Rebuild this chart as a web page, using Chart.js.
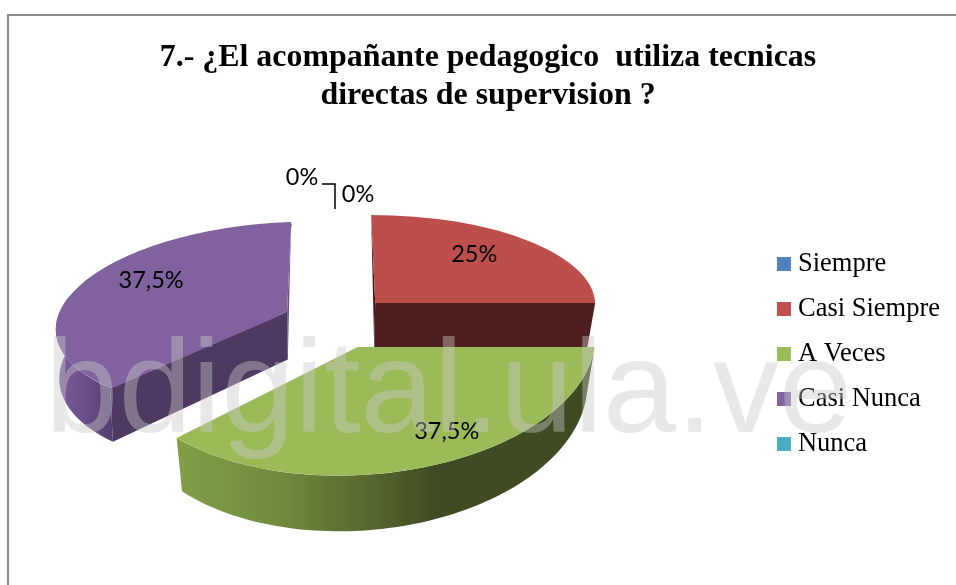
<!DOCTYPE html>
<html>
<head>
<meta charset="utf-8">
<style>
html,body{margin:0;padding:0;background:#fff;overflow:hidden;width:956px;height:585px}
#frame{position:absolute;left:7px;top:14px;width:949px;height:571px;border-left:2px solid #8c8c8c;border-top:2px solid #8c8c8c;box-sizing:border-box}
#wrap{position:absolute;left:0;top:0;width:956px;height:585px;overflow:hidden}
canvas{position:absolute;left:0;top:0}
</style>
<script src="https://cdn.jsdelivr.net/npm/chart.js@4"></script>
</head>
<body>
<div id="frame"></div>
<div id="wrap"><canvas id="c" width="976" height="669"></canvas></div>
<script>
const titleLines = ['7.- ¿El acompañante pedagogico  utiliza tecnicas', 'directas de supervision ?'];
const categories = ['Siempre', 'Casi Siempre', 'A Veces', 'Casi Nunca', 'Nunca'];
const percentages = [0, 25, 37.5, 37.5, 0];
const valueLabels = ['0%', '25%', '37,5%', '37,5%', '0%'];
const colors = ['#4f81bd', '#c0504d', '#9bbb59', '#8064a2', '#4bacc6'];
const topColors = ['#4f81bd', '#bc4f4c', '#9bbb59', '#7f629e', '#4bacc6'];
const watermark = 'bdigital.ula.ve';

// Camera used to show the flat pie as an exploded 3-D pie.
const VIEW = {cx: 337, cy: 322, explode: 54, squash: 0.5, vanishX: 345, depthBase: 40, depthFrom: 215};
// Per-slice foreshortening: where unit x and unit y of the pie land, with label place in those units.
const SLICE_VIEW = {
  1: {A: [220, 0], B: [4, 88], nudge: [0, 0], label: [0.46, -0.55], shrink: 0.032, depthRate: 0.06, wallShare: 0},
  2: {A: [237, 0], B: [-19, 128.7], nudge: [0, 0], label: [0.428, 0.653], shrink: 0.032, depthRate: 0.06, wallShare: 1},
  3: {A: [219.8, -6.6], B: [-15, 94.5], nudge: [-11, 4.8], label: [-0.598, -0.427], shrink: 0.012, depthRate: 0.08, wallShare: 0.45}
};
const DRAW_ORDER = [1, 3, 2];

function geometry(el, i) {
  const v = SLICE_VIEW[i];
  const mid = (el.startAngle + el.endAngle) / 2 + Math.PI / 2;
  const tip = [VIEW.cx + VIEW.explode * Math.sin(mid), VIEW.cy - VIEW.explode * VIEW.squash * Math.cos(mid)];
  const O = [tip[0] + v.nudge[0], tip[1] + v.nudge[1]];
  const at = a => {
    const t = a + Math.PI / 2;
    return [O[0] + Math.sin(t) * v.A[0] - Math.cos(t) * v.B[0], O[1] + Math.sin(t) * v.A[1] - Math.cos(t) * v.B[1]];
  };
  const drop = p => [p[0] + (VIEW.vanishX - p[0]) * v.shrink, p[1] + VIEW.depthBase + (p[1] - VIEW.depthFrom) * v.depthRate];
  return {v, tip, O, at, drop};
}
function poly(ctx, pts, fill) {
  ctx.beginPath();
  pts.forEach((p, k) => k ? ctx.lineTo(p[0], p[1]) : ctx.moveTo(p[0], p[1]));
  ctx.closePath();
  ctx.fillStyle = fill;
  ctx.fill();
}
function hGrad(ctx, x0, x1, stops) {
  const g = ctx.createLinearGradient(x0, 0, x1, 0);
  stops.forEach(s => g.addColorStop(s[0], s[1]));
  return g;
}
const WALLS = {
  1: {outer: () => '#4f1e1e', back: '#3d1716', front: '#4f1e1e', frontIsEnd: true},
  2: {outer: ctx => hGrad(ctx, 177, 596, [[0, '#809f46'], [0.25, '#6f8a3f'], [0.45, '#58692f'], [0.62, '#3f4b22'], [1, '#3f4b22']])},
  3: {outer: ctx => hGrad(ctx, 58, 110, [[0, '#7a5d99'], [0.5, '#6a4f88'], [1, '#574073']]), back: '#6a5388', front: '#4e3961', frontIsEnd: false}
};

const pie3d = {
  id: 'pie3d',
  beforeDatasetDraw(chart) {
    const ctx = chart.ctx;
    const els = chart.getDatasetMeta(0).data;
    DRAW_ORDER.forEach(i => {
      const el = els[i];
      const g = geometry(el, i);
      const w = WALLS[i];
      const n = 80, top = [];
      for (let k = 0; k <= n; k++) top.push(g.at(el.startAngle + (el.endAngle - el.startAngle) * k / n));
      const start = top[0], end = top[n];
      const wallPts = top.slice(0, Math.round(n * g.v.wallShare) + 1);
      if (wallPts.length > 1) poly(ctx, wallPts.concat(wallPts.slice().reverse().map(g.drop)), w.outer(ctx));
      if (w.back) {
        const backEnd = w.frontIsEnd ? start : end;
        poly(ctx, [backEnd, g.tip, g.drop(g.tip)], w.back);
      }
      if (w.front) {
        const frontEnd = w.frontIsEnd ? end : start;
        poly(ctx, [g.tip, frontEnd, g.drop(frontEnd), g.drop(g.tip)], w.front);
      }
      const r = el.outerRadius, A = g.v.A, B = g.v.B;
      ctx.save();
      ctx.transform(A[0] / r, A[1] / r, B[0] / r, B[1] / r,
        g.O[0] - (A[0] * el.x + B[0] * el.y) / r,
        g.O[1] - (A[1] * el.x + B[1] * el.y) / r);
      el.draw(ctx);
      ctx.restore();
      if (g.v.nudge[0] || g.v.nudge[1]) {
        poly(ctx, [start, g.O, end, g.tip], topColors[i]);
        ctx.save();
        ctx.strokeStyle = topColors[i];
        ctx.lineWidth = 1.5;
        ctx.beginPath();
        ctx.moveTo(end[0], end[1] + 2);
        ctx.lineTo(g.O[0], g.O[1]);
        ctx.lineTo(start[0] + 3, start[1] - 1);
        ctx.stroke();
        ctx.restore();
      }
    });
    return false;
  },
  afterDraw(chart) {
    const ctx = chart.ctx;
    const els = chart.getDatasetMeta(0).data;
    ctx.save();
    ctx.fillStyle = '#000';
    ctx.font = '23.5px Lato, "Open Sans", sans-serif';
    ctx.textAlign = 'center';
    ctx.textBaseline = 'middle';
    DRAW_ORDER.forEach(i => {
      const g = geometry(els[i], i), l = g.v.label;
      ctx.fillText(valueLabels[i], g.O[0] + l[0] * g.v.A[0] + l[1] * g.v.B[0], g.O[1] + l[0] * g.v.A[1] + l[1] * g.v.B[1]);
    });
    ctx.fillText(valueLabels[4], VIEW.cx - 35, VIEW.cy - 145);
    ctx.fillText(valueLabels[0], VIEW.cx + 21, VIEW.cy - 128);
    ctx.strokeStyle = '#000';
    ctx.lineWidth = 1.5;
    ctx.beginPath();
    ctx.moveTo(VIEW.cx - 15, VIEW.cy - 138);
    ctx.lineTo(VIEW.cx - 2, VIEW.cy - 138);
    ctx.lineTo(VIEW.cx - 2, VIEW.cy - 113);
    ctx.stroke();
    ctx.fillStyle = 'rgba(200,200,200,0.42)';
    ctx.font = '132px "Liberation Sans", sans-serif';
    ctx.textAlign = 'left';
    ctx.textBaseline = 'alphabetic';
    ctx.fillText(watermark, 45, 432);
    ctx.restore();
  }
};

new Chart(document.getElementById('c'), {
  type: 'pie',
  data: {
    labels: categories,
    datasets: [{data: percentages, backgroundColor: topColors, borderWidth: 0}]
  },
  plugins: [pie3d],
  options: {
    responsive: false,
    animation: false,
    layout: {padding: {top: 39, right: 26, bottom: 0, left: 26}},
    plugins: {
      tooltip: {enabled: false},
      title: {
        display: true,
        text: titleLines,
        color: '#000',
        font: {family: '"Liberation Serif", serif', size: 31.9, weight: 'bold', lineHeight: 1.19},
        padding: {top: 0, bottom: 10}
      },
      legend: {
        position: 'right',
        labels: {
          color: '#000',
          font: {family: '"Liberation Serif", serif', size: 26.5},
          boxWidth: 1.5,
          boxHeight: 1.5,
          padding: 18.5,
          generateLabels(chart) {
            return categories.map((text, i) => ({
              text, index: i, fillStyle: colors[i], strokeStyle: colors[i], lineWidth: 12.5, hidden: false, fontColor: '#000'
            }));
          }
        }
      }
    }
  }
});
</script>
</body>
</html>
